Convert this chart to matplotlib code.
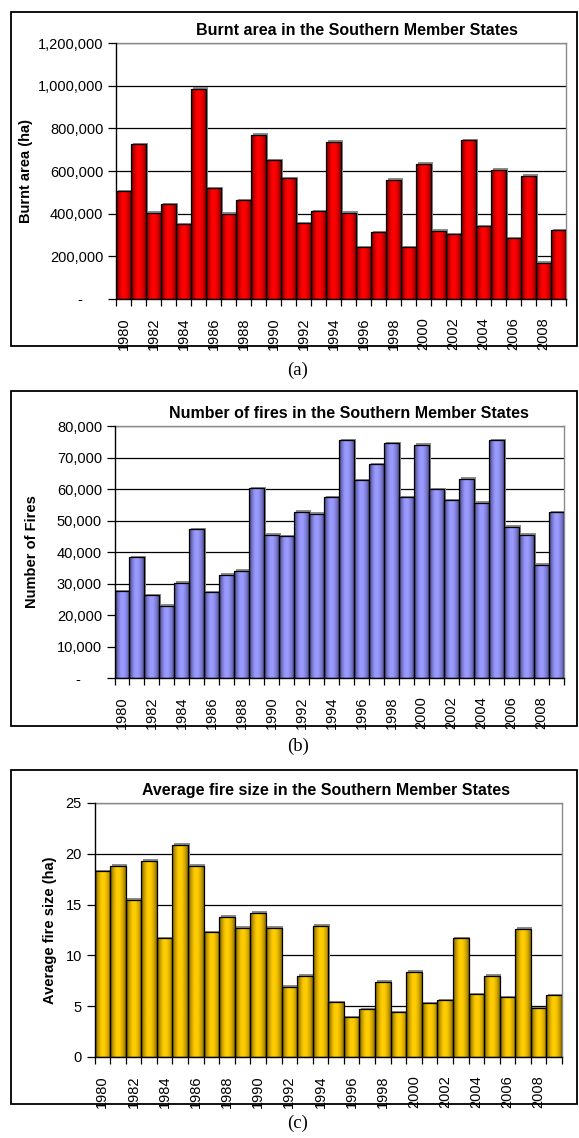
import numpy as np
import matplotlib
matplotlib.use("Agg")
import matplotlib.pyplot as plt
from matplotlib.colors import LinearSegmentedColormap
from matplotlib.patches import Rectangle
from matplotlib.ticker import FuncFormatter, FixedLocator
import matplotlib.transforms as mtransforms

plt.rcParams['font.family'] = ['Liberation Sans', 'DejaVu Sans']

# Data
years = list(range(1980, 2010))

burnt_area = [505000, 725000, 405000, 445000, 350000, 985000, 520000, 400000,
              462000, 770000, 650000, 565000, 355000, 412000, 737000, 405000,
              243000, 312000, 560000, 243000, 633000, 320000, 303000, 745000,
              342000, 605000, 285000, 577000, 170000, 322000]

num_fires = [27500, 38300, 26300, 23000, 30200, 47200, 27200, 32700, 34000,
             60300, 45500, 45000, 52700, 52200, 57400, 75400, 62800, 67800,
             74500, 57400, 74000, 60000, 56500, 63200, 55600, 75400, 48000,
             45500, 36000, 52600]

avg_size = [18.3, 18.8, 15.5, 19.3, 11.7, 20.9, 18.8, 12.3, 13.8, 12.7, 14.2,
            12.7, 6.9, 8.0, 12.9, 5.4, 3.9, 4.7, 7.4, 4.4, 8.4, 5.3, 5.6, 11.7,
            6.2, 8.0, 5.9, 12.6, 4.8, 6.1]

W, H = 579, 1138
fig = plt.figure(figsize=(W / 100, H / 100), dpi=100)


def px_axes(left, top, right, bottom):
    return fig.add_axes([left / W, 1 - bottom / H, (right - left) / W, (bottom - top) / H])


def frame_box(left, top, right, bottom):
    fig.patches.append(Rectangle((left / W, 1 - bottom / H), (right - left) / W, (bottom - top) / H,
                                 transform=fig.transFigure, fill=False, edgecolor='black', linewidth=1.3))


def bar_panel(ax, values, colors, ymax, ystep, title, title_x, ylabel, fmt):
    cmap = LinearSegmentedColormap.from_list('bar', colors)
    x = np.arange(len(values))
    # shadow
    shadow_tr = ax.transData + mtransforms.ScaledTranslation(1.5 / 100, 1.5 / 100, fig.dpi_scale_trans)
    ax.bar(x, values, width=1.0, color='#8c8c8c', linewidth=0, zorder=2, transform=shadow_tr)
    bars = ax.bar(x, values, width=1.0, color=colors[2], linewidth=0, zorder=3)
    grad = np.linspace(0, 1, 64).reshape(1, -1)
    for b in bars:
        im = ax.imshow(grad, extent=(b.get_x(), b.get_x() + b.get_width(), 0, b.get_height()),
                       aspect='auto', cmap=cmap, zorder=3.5, interpolation='bilinear')
        im.set_clip_path(b)
    ax.bar(x, values, width=1.0, fill=False, edgecolor='black', linewidth=0.9, zorder=4)

    ax.set_xlim(-0.5, len(values) - 0.5)
    ax.set_ylim(0, ymax)
    ax.set_aspect('auto')
    ax.set_yticks(np.arange(0, ymax + ystep / 2, ystep))
    ax.yaxis.set_major_formatter(FuncFormatter(fmt))
    ax.grid(axis='y', color='black', linewidth=0.9)
    ax.set_axisbelow(True)

    ax.set_xticks(x[::2])
    ax.set_xticklabels([str(y) for y in years[::2]], rotation=90)
    ax.xaxis.set_minor_locator(FixedLocator(np.arange(-0.5, len(values), 1)))
    ax.tick_params(axis='x', which='major', length=0, pad=13, labelsize=10.5)
    ax.tick_params(axis='x', which='minor', length=5, width=0.9, direction='out')
    ax.tick_params(axis='y', length=6, width=0.9, direction='out', labelsize=10.5, pad=3)

    for s in ['top', 'right']:
        ax.spines[s].set_color('#8a8a8a')
        ax.spines[s].set_linewidth(1.0)
    for s in ['left', 'bottom']:
        ax.spines[s].set_color('black')
        ax.spines[s].set_linewidth(1.0)
        ax.spines[s].set_zorder(5)

    ax.set_title(title, fontsize=11.5, fontweight='bold', pad=6, x=title_x)
    ax.set_ylabel(ylabel, fontsize=10.5, fontweight='bold')


def fmt_thousands(v, pos):
    return '-     ' if v == 0 else f'{v:,.0f}'


def fmt_plain(v, pos):
    return f'{v:.0f}'


red = ['#5a0000', '#c00000', '#ff0000', '#ff0000', '#d80000', '#900000']
blue = ['#3c3c6e', '#7474c8', '#9999ff', '#9a9aff', '#8080d8', '#55559a']
gold = ['#6e5600', '#c89e00', '#ffcc00', '#ffcc00', '#d8ab00', '#8c6e00']

frame_box(11, 12, 577, 346)
ax1 = px_axes(116, 43, 566, 299)
bar_panel(ax1, burnt_area, red, 1200000, 200000,
          'Burnt area in the Southern Member States', 0.536, 'Burnt area (ha)', fmt_thousands)
ax1.yaxis.set_label_coords(-0.184, 0.5)

frame_box(11, 391, 577, 726)
ax2 = px_axes(114.5, 426, 564, 678)
bar_panel(ax2, num_fires, blue, 80000, 10000,
          'Number of fires in the Southern Member States', 0.522, 'Number of Fires', fmt_thousands)
ax2.yaxis.set_label_coords(-0.167, 0.5)

frame_box(11, 770, 577, 1104)
ax3 = px_axes(94.5, 803, 562, 1057)
bar_panel(ax3, avg_size, gold, 25, 5,
          'Average fire size in the Southern Member States', 0.495, 'Average fire size (ha)', fmt_plain)
ax3.yaxis.set_label_coords(-0.08, 0.5)

for label, ypx in [('(a)', 370), ('(b)', 746), ('(c)', 1123)]:
    fig.text(298 / W, 1 - ypx / H, label, ha='center', va='center',
             fontsize=13.5, family=['Liberation Serif', 'DejaVu Serif'])

fig.savefig('out.png', dpi=100)
